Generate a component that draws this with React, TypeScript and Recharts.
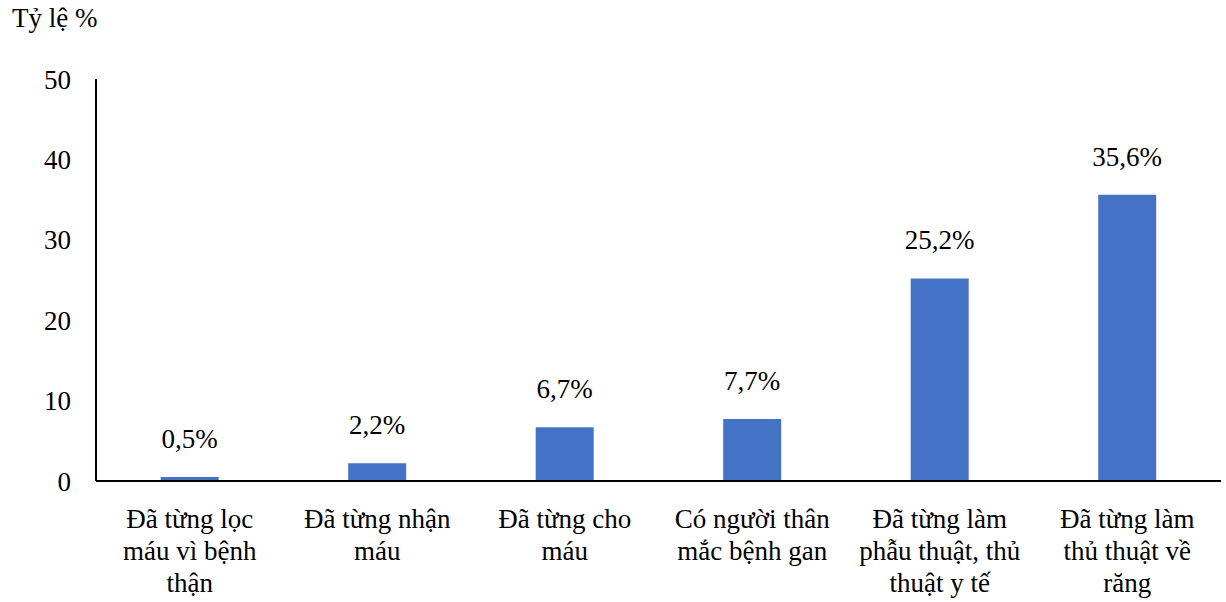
import { Bar, BarChart, LabelList, XAxis, YAxis } from "recharts";

const categories = [
  "Đã từng lọc máu vì bệnh thận",
  "Đã từng nhận máu",
  "Đã từng cho máu",
  "Có người thân mắc bệnh gan",
  "Đã từng làm phẫu thuật, thủ thuật y tế",
  "Đã từng làm thủ thuật về răng",
];

// how each category label is broken into lines, as in the picture
const categoryLines = [
  ["Đã từng lọc", "máu vì bệnh", "thận"],
  ["Đã từng nhận", "máu"],
  ["Đã từng cho", "máu"],
  ["Có người thân", "mắc bệnh gan"],
  ["Đã từng làm", "phẫu thuật, thủ", "thuật y tế"],
  ["Đã từng làm", "thủ thuật về", "răng"],
];

const values = [0.5, 2.2, 6.7, 7.7, 25.2, 35.6];
const yTicks = [0, 10, 20, 30, 40, 50];

const data = categories.map((name, i) => ({ name, idx: i, value: values[i] }));

const font = '"Liberation Serif", Tinos, "DejaVu Serif", serif';
const fs = 27;

function CatTick({ x, y, payload }: { x?: number; y?: number; payload?: { index: number } }) {
  const lines = categoryLines[payload?.index ?? 0];
  return (
    <text x={x} y={y} textAnchor="middle" style={{ fontFamily: font }} fontSize={fs} fill="#000">
      {lines.map((l, i) => (
        <tspan key={i} x={x} dy={i === 0 ? 47 : 32}>
          {l}
        </tspan>
      ))}
    </text>
  );
}

export default function App() {
  return (
    <div style={{ position: "absolute", left: 0, top: 0, width: 1226, height: 602, background: "#fff", fontFamily: font }}>
      <div
        style={{
          position: "absolute",
          left: 12,
          top: 3,
          fontSize: fs,
          color: "#000",
          whiteSpace: "nowrap",
        }}
      >
        Tỷ lệ %
      </div>
      <BarChart
        width={1226}
        height={602}
        data={data}
        margin={{ top: 79, right: 5, left: 0, bottom: 0 }}
        barCategoryGap="34.5%"
        style={{ fontFamily: font }}
      >
        <XAxis
          dataKey="name"
          interval={0}
          height={121}
          tickLine={false}
          tickSize={0}
          tickMargin={0}
          axisLine={{ stroke: "#000", strokeWidth: 2 }}
          tick={<CatTick />}
        />
        <YAxis
          width={96}
          domain={[0, 50]}
          ticks={yTicks}
          tickLine={false}
          tickSize={0}
          tickMargin={25}
          axisLine={{ stroke: "#000", strokeWidth: 2 }}
          tick={{ fontSize: fs, fill: "#000", style: { fontFamily: font } }}
        />
        <Bar dataKey="value" fill="#4472C4" isAnimationActive={false}>
          <LabelList
            dataKey="value"
            position="top"
            offset={29}
            formatter={(v: number) => `${v.toFixed(1).replace(".", ",")}%`}
            style={{ fontFamily: font, fontSize: fs, fill: "#000" }}
          />
        </Bar>
      </BarChart>
    </div>
  );
}
